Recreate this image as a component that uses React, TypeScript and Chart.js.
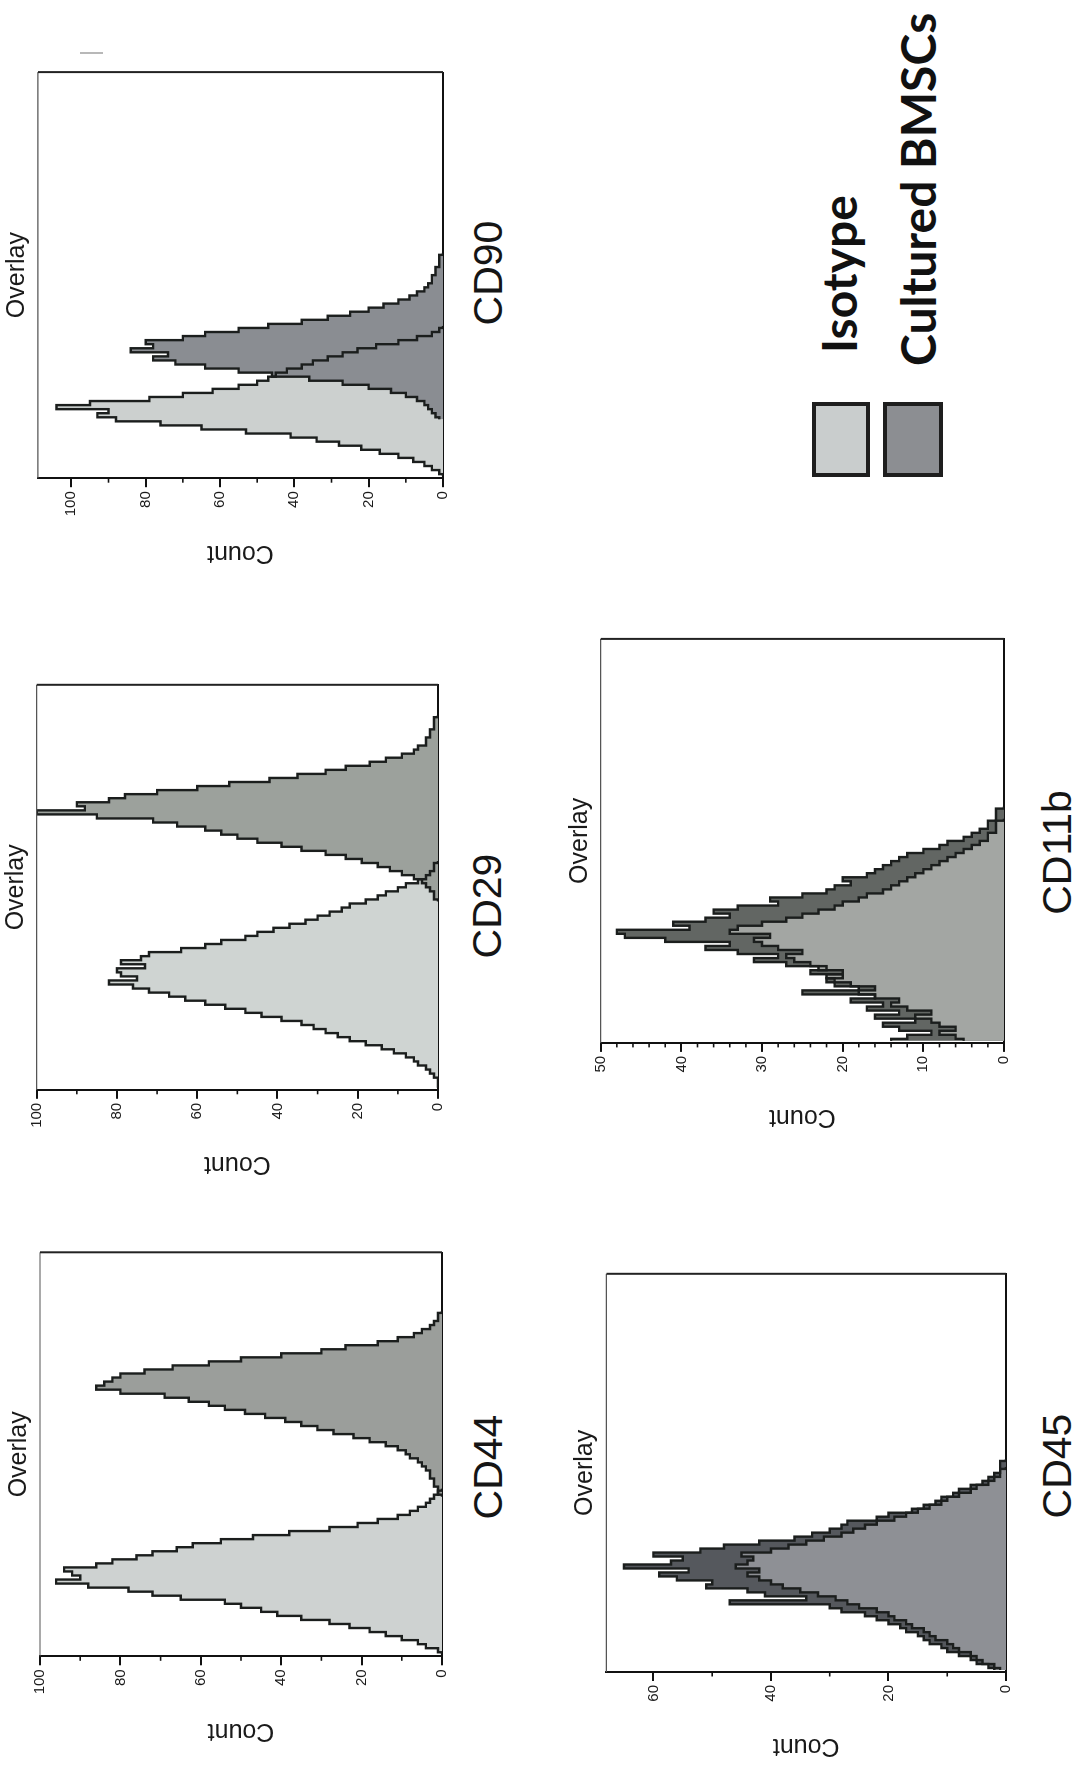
import React, { useEffect, useRef } from 'react';
import { Chart, registerables } from 'chart.js';

Chart.register(...registerables);

// ---------------- data (counts per fluorescence bin) ----------------
const xBinCount = 100;

const cd90IsotypeStart = 0;
const cd90Isotype = [0, 1, 3, 5, 8, 12, 17, 22, 28, 34, 41, 53, 65, 76, 88, 93, 90, 104, 95, 79, 70, 62, 55, 50, 47, 45, 42, 38, 35, 31, 27, 23, 18, 12, 7, 3, 1, 0];
const cd90BmscStart = 14;
const cd90Bmsc = [1, 2, 3, 4, 5, 7, 10, 14, 20, 27, 36, 46, 55, 64, 72, 78, 74, 84, 78, 80, 70, 64, 55, 47, 38, 31, 25, 20, 16, 12, 9, 7, 5, 4, 3, 3, 2, 2, 1, 1, 1, 0];

const cd29IsotypeStart = 0;
const cd29Isotype = [0, 0, 0, 1, 2, 3, 5, 6, 8, 11, 14, 18, 22, 25, 28, 31, 34, 39, 44, 48, 53, 58, 63, 67, 72, 76, 82, 75, 79, 80, 73, 79, 74, 72, 64, 58, 54, 48, 45, 41, 37, 33, 30, 27, 24, 22, 18, 15, 13, 10, 8, 5, 3, 2, 1, 1, 0];
const cd29BmscStart = 46;
const cd29Bmsc = [0, 1, 1, 2, 3, 4, 6, 9, 12, 15, 19, 23, 28, 34, 39, 45, 50, 54, 58, 65, 71, 85, 100, 88, 90, 82, 78, 70, 60, 52, 42, 35, 28, 23, 17, 13, 9, 6, 5, 3, 3, 2, 2, 1, 1, 1, 0];

const cd44IsotypeStart = 0;
const cd44Isotype = [0, 1, 4, 6, 10, 14, 18, 23, 28, 35, 41, 45, 50, 54, 65, 72, 78, 88, 96, 90, 92, 94, 86, 82, 76, 72, 66, 62, 55, 47, 38, 28, 21, 16, 11, 8, 6, 4, 3, 2, 1, 0];
const cd44BmscStart = 39;
const cd44Bmsc = [0, 1, 1, 2, 2, 3, 3, 4, 5, 6, 8, 9, 11, 14, 18, 22, 27, 31, 35, 39, 44, 49, 54, 58, 63, 69, 80, 86, 84, 82, 80, 74, 67, 58, 50, 40, 30, 24, 16, 11, 7, 5, 3, 2, 1, 1, 0];

const cd11bIsotypeStart = 0;
const cd11bIsotype = [5, 6, 8, 6, 8, 9, 11, 9, 12, 14, 13, 16, 18, 16, 19, 21, 22, 20, 23, 24, 26, 27, 25, 28, 30, 31, 29, 34, 33, 30, 27, 25, 23, 21, 20, 18, 17, 15, 14, 13, 12, 11, 10, 9, 8, 7, 6, 5, 4, 3, 2, 2, 1, 1, 1, 0];
const cd11bBmscStart = 0;
const cd11bBmsc = [14, 12, 9, 13, 15, 11, 16, 13, 17, 15, 19, 16, 25, 18, 21, 22, 20, 24, 22, 27, 31, 28, 33, 37, 34, 42, 47, 48, 39, 41, 37, 34, 36, 33, 28, 29, 25, 22, 21, 19, 20, 17, 16, 15, 14, 13, 12, 10, 8, 7, 5, 4, 3, 2, 2, 1, 1, 1, 0];

const cd45IsotypeStart = 0;
const cd45Isotype = [2, 2, 4, 5, 6, 8, 9, 10, 12, 13, 14, 16, 17, 19, 20, 22, 25, 27, 29, 32, 35, 38, 40, 42, 44, 42, 46, 44, 43, 45, 40, 37, 34, 31, 28, 26, 24, 22, 19, 17, 15, 13, 11, 10, 8, 6, 5, 3, 2, 1, 1, 0];
const cd45BmscStart = 0;
const cd45Bmsc = [1, 3, 5, 6, 8, 10, 11, 13, 14, 15, 17, 18, 20, 22, 24, 28, 30, 47, 34, 41, 44, 51, 50, 56, 59, 54, 65, 57, 55, 60, 52, 48, 42, 36, 33, 30, 28, 27, 22, 20, 16, 14, 12, 11, 9, 8, 6, 4, 3, 2, 1, 1, 1, 0];

// y axis: max, major step, minor step
const cd90Axis = [109, 20, 10];
const cd29Axis = [100, 20, 10];
const cd44Axis = [100, 20, 10];
const cd11bAxis = [50, 10, 2];
const cd45Axis = [68, 20, 10];

const panelTitle = 'Overlay';
const yTitle = 'Count';
const legendLabels = ['Isotype', 'Cultured BMSCs'];

// ---------------- layout (unrotated figure, 1769 x 1080) ----------------
const FIG_W = 1769;
const FIG_H = 1080;
const FONT = '"Liberation Sans", Arial, Helvetica, sans-serif';
const LINE = '#1b1e1d';

type Series = { name: string; start: number; values: number[]; fill: string };
type PanelSpec = {
  id: string;
  marker: string;
  box: [number, number, number, number];
  axis: number[];
  markerPos: [number, number];
  series: Series[];
};

const PANELS: PanelSpec[] = [
  {
    id: 'cd44', marker: 'CD44', box: [112.7, 40, 516.7, 442.8], axis: cd44Axis, markerPos: [302, 488],
    series: [
      { name: legendLabels[1], start: cd44BmscStart, values: cd44Bmsc, fill: '#9b9e9b' },
      { name: legendLabels[0], start: cd44IsotypeStart, values: cd44Isotype, fill: '#ced2d1' },
    ],
  },
  {
    id: 'cd29', marker: 'CD29', box: [679.2, 36.7, 1084.2, 439], axis: cd29Axis, markerPos: [863, 487],
    series: [
      { name: legendLabels[1], start: cd29BmscStart, values: cd29Bmsc, fill: '#9ca19c' },
      { name: legendLabels[0], start: cd29IsotypeStart, values: cd29Isotype, fill: '#cfd4d2' },
    ],
  },
  {
    id: 'cd90', marker: 'CD90', box: [1290.8, 37.9, 1696.9, 443.5], axis: cd90Axis, markerPos: [1496, 488],
    series: [
      { name: legendLabels[1], start: cd90BmscStart, values: cd90Bmsc, fill: '#8a8d92' },
      { name: legendLabels[0], start: cd90IsotypeStart, values: cd90Isotype, fill: '#ccd0cf' },
    ],
  },
  {
    id: 'cd45', marker: 'CD45', box: [97, 606.4, 495.2, 1006.1], axis: cd45Axis, markerPos: [303, 1057],
    series: [
      { name: legendLabels[0], start: cd45IsotypeStart, values: cd45Isotype, fill: '#8e9095' },
      { name: legendLabels[1], start: cd45BmscStart, values: cd45Bmsc, fill: '#55585d' },
    ],
  },
  {
    id: 'cd11b', marker: 'CD11b', box: [726.1, 600.7, 1130.1, 1004.4], axis: cd11bAxis, markerPos: [916.5, 1057.5],
    series: [
      { name: legendLabels[0], start: cd11bIsotypeStart, values: cd11bIsotype, fill: '#a3a6a3' },
      { name: legendLabels[1], start: cd11bBmscStart, values: cd11bBmsc, fill: '#626663' },
    ],
  },
];

const histFramePlugin = {
  id: 'histFrame',
  afterDraw(chart: any, _args: any, opts: any) {
    const { ctx, chartArea: a } = chart;
    const y = chart.scales.y;
    ctx.save();
    ctx.strokeStyle = '#111';
    ctx.lineWidth = 1.6;
    for (let v = opts.minor; v < y.max + 1e-6; v += opts.minor) {
      const r = v / opts.major;
      if (Math.abs(r - Math.round(r)) < 1e-6) continue;
      const py = y.getPixelForValue(v);
      ctx.beginPath();
      ctx.moveTo(a.left, py);
      ctx.lineTo(a.left - 4.5, py);
      ctx.stroke();
    }
    ctx.strokeStyle = '#555';
    ctx.lineWidth = 1.2;
    ctx.beginPath();
    ctx.moveTo(a.left, a.top);
    ctx.lineTo(a.right, a.top);
    ctx.stroke();
    ctx.strokeStyle = '#222';
    ctx.lineWidth = 2;
    ctx.beginPath();
    ctx.moveTo(a.right, a.top);
    ctx.lineTo(a.right, a.bottom);
    ctx.stroke();
    ctx.restore();
  },
};

const YW = 89;
const TITLE_H = 36.9;
const PAD_B = 12;
const PAD_R = 4;
const TITLE_SIZE = 25;
const TITLE_GAP = 6;

function HistPanel({ spec }: { spec: PanelSpec }) {
  const ref = useRef<HTMLCanvasElement>(null);
  const [L, T, R, B] = spec.box;
  const cl = Math.floor(L - YW);
  const ct = Math.floor(T - TITLE_H);
  const cw = Math.ceil(R - cl + PAD_R);
  const ch = Math.ceil(B - ct + PAD_B);

  useEffect(() => {
    if (!ref.current) return;
    const yw = L - cl;
    const th = T - ct;
    const padRight = cw - (R - cl);
    const padBottom = ch - (B - ct);
    const titleLH = TITLE_SIZE * 1.2;
    const titleTop = th - titleLH - TITLE_GAP;
    const [yMax, major, minor] = spec.axis;
    const chart = new Chart(ref.current, {
      type: 'line',
      data: {
        datasets: spec.series.map((s) => ({
          label: s.name,
          data: s.values.map((v, k) => ({ x: s.start + k + 0.5, y: v })),
          borderColor: LINE,
          borderWidth: 2.4,
          backgroundColor: s.fill,
          fill: 'origin',
          stepped: 'middle',
          pointRadius: 0,
          tension: 0,
        })),
      },
      options: {
        responsive: false,
        animation: false,
        devicePixelRatio: 1,
        events: [],
        layout: { padding: { left: 0, top: 0, right: padRight, bottom: padBottom } },
        plugins: {
          legend: { display: false },
          tooltip: { enabled: false },
          filler: { drawTime: 'beforeDatasetsDraw' },
          title: {
            display: true,
            text: panelTitle,
            fullSize: false,
            color: '#1a1a1a',
            font: { family: FONT, size: TITLE_SIZE, weight: 'normal' },
            padding: { top: titleTop, bottom: TITLE_GAP },
          },
          histFrame: { major, minor },
        } as any,
        scales: {
          x: {
            type: 'linear',
            min: 0,
            max: xBinCount,
            ticks: { display: false },
            grid: { display: false },
            border: { display: true, color: '#111', width: 2 },
            afterFit: (s: any) => { s.height = 0; },
          },
          y: {
            type: 'linear',
            min: 0,
            max: yMax,
            ticks: {
              stepSize: major,
              includeBounds: false,
              padding: 4,
              color: '#1a1a1a',
              font: { family: FONT, size: 15 },
            },
            grid: { display: true, drawOnChartArea: false, drawTicks: true, tickLength: 9, color: '#111', lineWidth: 2 },
            border: { display: true, color: '#111', width: 2 },
            title: { display: true, text: yTitle, color: '#1a1a1a', font: { family: FONT, size: 25 }, padding: 0 },
            afterFit: (s: any) => { s.width = yw; },
          },
        } as any,
      },
      plugins: [histFramePlugin],
    });
    return () => chart.destroy();
  }, []);

  return (
    <canvas
      ref={ref}
      width={cw}
      height={ch}
      style={{ position: 'absolute', left: cl, top: ct, width: cw, height: ch }}
    />
  );
}

function MarkerLabel({ text, pos }: { text: string; pos: [number, number] }) {
  return (
    <div
      style={{
        position: 'absolute', left: pos[0] - 150, top: pos[1] - 20.5, width: 300, height: 41,
        lineHeight: '41px', fontSize: 41, fontFamily: FONT, color: '#151515', textAlign: 'center', whiteSpace: 'nowrap',
      }}
    >
      {text}
    </div>
  );
}

export default function App() {
  useEffect(() => {
    document.body.style.margin = '0';
  }, []);
  const legendFont = 'Lato, "Open Sans", "Liberation Sans", sans-serif';
  return (
    <div style={{ position: 'absolute', left: 0, top: 0, width: 1080, height: 1769, overflow: 'hidden', background: '#fff' }}>
      <div
        style={{
          position: 'absolute', left: 0, top: 0, width: FIG_W, height: FIG_H,
          transformOrigin: '0 0', transform: `translateY(${FIG_W}px) rotate(-90deg)`,
        }}
      >
        {PANELS.map((p) => <HistPanel key={p.id} spec={p} />)}
        {PANELS.map((p) => <MarkerLabel key={p.id + '-m'} text={p.marker} pos={p.markerPos} />)}
        <div style={{ position: 'absolute', left: 1715, top: 80, width: 2, height: 23, background: '#b8b8b8' }} />
        {/* legend */}
        <div style={{ position: 'absolute', left: 1292.3, top: 811.7, width: 75, height: 58.3, boxSizing: 'border-box', border: '4px solid #1e1e1e', background: '#c9cdcd' }} />
        <div style={{ position: 'absolute', left: 1292.3, top: 883, width: 75, height: 60, boxSizing: 'border-box', border: '4px solid #1e1e1e', background: '#8c8e92' }} />
        <div style={{ position: 'absolute', left: 1416, top: 815, fontFamily: legendFont, fontWeight: 700, fontSize: 48, lineHeight: '48px', color: '#111', whiteSpace: 'nowrap' }}>
          {legendLabels[0]}
        </div>
        <div style={{ position: 'absolute', left: 1403, top: 894, fontFamily: legendFont, fontWeight: 700, fontSize: 48, lineHeight: '48px', color: '#111', whiteSpace: 'nowrap' }}>
          {legendLabels[1]}
        </div>
      </div>
    </div>
  );
}
